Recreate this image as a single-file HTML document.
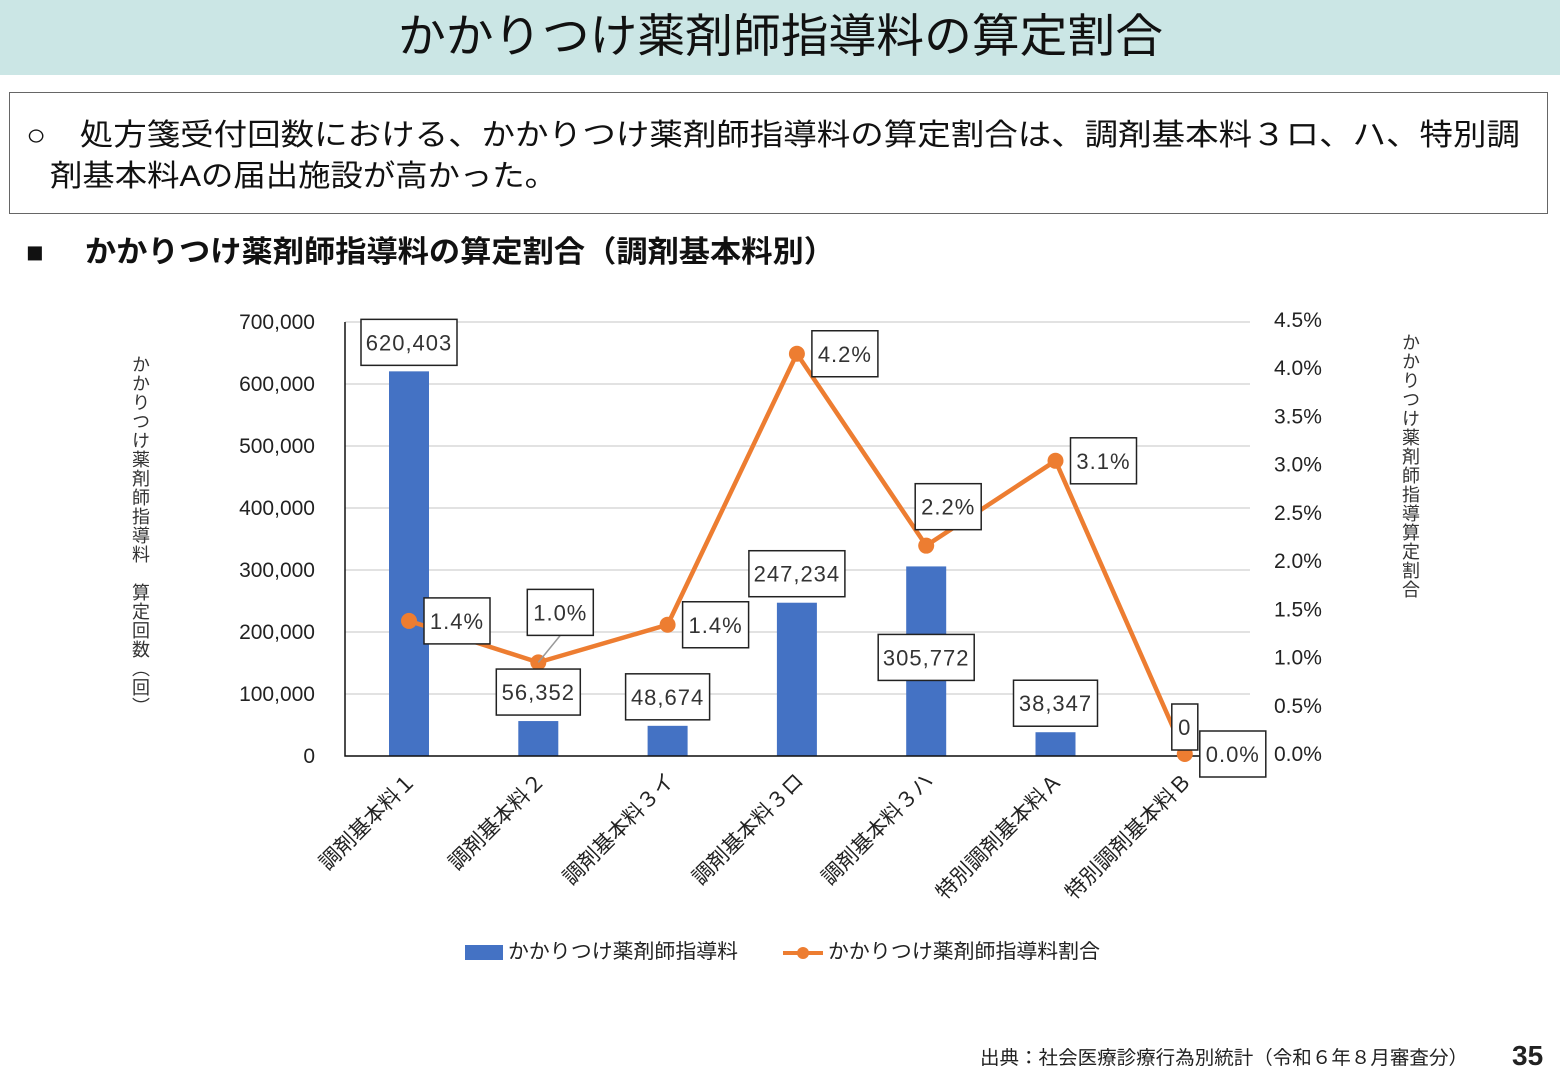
<!DOCTYPE html>
<html><head><meta charset="utf-8"><style>
body{margin:0;width:1560px;height:1080px;overflow:hidden;background:#fff;font-family:"Liberation Sans","Noto Sans CJK JP",sans-serif}
svg text{font-family:"Liberation Sans","Noto Sans CJK JP",sans-serif}
</style></head><body>
<svg id="s" width="1560" height="1080" xmlns="http://www.w3.org/2000/svg">
<rect x="0" y="0" width="1560" height="75" fill="#cbe6e5"/>
<text x="398" y="52" font-size="46" textLength="765" lengthAdjust="spacingAndGlyphs" fill="#111">かかりつけ薬剤師指導料の算定割合</text>
<rect x="9.5" y="92.5" width="1538" height="121" fill="#fff" stroke="#666"/>
<text x="26" y="145" font-size="30" fill="#111" textLength="1494" lengthAdjust="spacingAndGlyphs">○　処方箋受付回数における、かかりつけ薬剤師指導料の算定割合は、調剤基本料３ロ、ハ、特別調</text>
<text x="50" y="186" font-size="30" fill="#111" textLength="507" lengthAdjust="spacingAndGlyphs">剤基本料Aの届出施設が高かった。</text>
<text x="26" y="262" font-size="29" font-weight="bold" fill="#111">■</text>
<text x="85" y="262" font-size="30" font-weight="bold" fill="#111" textLength="750" lengthAdjust="spacingAndGlyphs">かかりつけ薬剤師指導料の算定割合（調剤基本料別）</text>
<g id="chart"></g>
<text x="140" y="355" font-size="18" fill="#333" style="writing-mode:vertical-rl;letter-spacing:1px">かかりつけ薬剤師指導料　算定回数（回）</text>
<text x="1410" y="333" font-size="18" fill="#333" style="writing-mode:vertical-rl;letter-spacing:1px">かかりつけ薬剤師指導算定割合</text>
<rect x="465" y="945" width="38" height="15" fill="#4472c4"/>
<text x="508" y="958" font-size="20" fill="#222" textLength="230" lengthAdjust="spacingAndGlyphs">かかりつけ薬剤師指導料</text>
<line x1="783" y1="953" x2="823" y2="953" stroke="#ed7d31" stroke-width="4"/>
<circle cx="803" cy="953" r="6" fill="#ed7d31"/>
<text x="828" y="958" font-size="20" fill="#222" textLength="272" lengthAdjust="spacingAndGlyphs">かかりつけ薬剤師指導料割合</text>
<text x="980" y="1064" font-size="19" fill="#222" textLength="488" lengthAdjust="spacingAndGlyphs">出典：社会医療診療行為別統計（令和６年８月審査分）</text>
<text x="1512" y="1065" font-size="28" font-weight="bold" fill="#222">35</text>
</svg>
<script>
const categories=["調剤基本料１","調剤基本料２","調剤基本料３イ","調剤基本料３ロ","調剤基本料３ハ","特別調剤基本料Ａ","特別調剤基本料Ｂ"];
const counts=[620403,56352,48674,247234,305772,38347,0];
const countLabels=["620,403","56,352","48,674","247,234","305,772","38,347","0"];
const rates=[1.38,0.95,1.34,4.15,2.16,3.04,0.0];
const rateLabels=["1.4%","1.0%","1.4%","4.2%","2.2%","3.1%","0.0%"];
const leftTicks=[0,100000,200000,300000,400000,500000,600000,700000];
const rightTicks=[0,0.5,1,1.5,2,2.5,3,3.5,4,4.5];
const NS="http://www.w3.org/2000/svg";
const g=document.getElementById('chart');
const X0=345,X1=1250,YB=756,YT=322;
const xc=i=>X0+64+i*129.3;
const yL=v=>YB-(v/700000)*(YB-YT);
const yR=v=>754-(v/4.5)*(754-320);
function mk(t,a,p){const e=document.createElementNS(NS,t);for(const k in a)e.setAttribute(k,a[k]);(p||g).appendChild(e);return e;}
leftTicks.forEach((t,i)=>{
 const gl=mk('line',{x1:X0,x2:X1,y1:yL(t),y2:yL(t),stroke:'#d9d9d9','stroke-width':1.5});
 
 
 const tx=mk('text',{x:315,y:yL(t)+7,'font-size':21,'text-anchor':'end',fill:'#222'});tx.textContent=t.toLocaleString('en-US');
 
 
});
rightTicks.forEach(t=>{
 const tx=mk('text',{x:1274,y:yR(t)+7,'font-size':21,fill:'#222'});tx.textContent=t.toFixed(1)+'%';
 
 
});
counts.forEach((v,i)=>{
 const b=mk('rect',{x:xc(i)-20,y:yL(v),width:40,height:YB-yL(v),fill:'#4472c4'});
 
 
});
const ax=mk('path',{d:`M${X0} ${YT}V${YB}H${X1}`,fill:'none',stroke:'#111','stroke-width':1.5});


categories.forEach((c,i)=>{
 const tx=mk('text',{x:0,y:0,'font-size':21,'text-anchor':'end',fill:'#222',transform:`translate(${xc(i)+8},${YB+26}) rotate(-45)`});tx.textContent=c;
 
 
});
let d='';rates.forEach((r,i)=>{d+=(i?'L':'M')+xc(i)+' '+yR(r);});
const ln=mk('path',{d:d,fill:'none',stroke:'#ed7d31','stroke-width':4.5,'stroke-linejoin':'round'});


rates.forEach((r,i)=>{
 const c=mk('circle',{cx:xc(i),cy:yR(r),r:8,fill:'#ed7d31'});
 
 
});
function box(cx,cy,w,txt,name){
 const r=mk('rect',{x:cx-w/2,y:cy-23,width:w,height:46,fill:'#fff',stroke:'#222','stroke-width':1.5});
 
 
 const t=mk('text',{x:cx,y:cy+8,'font-size':22,'text-anchor':'middle',fill:'#333','letter-spacing':1});t.textContent=txt;
 
 
}
counts.forEach((v,i)=>{
 const w=countLabels[i].length>1?countLabels[i].length*12+12:26;
 let cy=yL(v)-29;
 if(i===4)cy=yL(v)+91;
 box(xc(i),cy,w,countLabels[i],'bar-value-label');
});
rates.forEach((r,i)=>{
 let cx=xc(i)+48,cy=yR(r);
 if(i===1){cx=xc(i)+22;cy=yR(r)-50;
  const l=mk('line',{x1:xc(i),y1:yR(r),x2:cx,y2:cy+23,stroke:'#999','stroke-width':1.5});
  
  }
 if(i===4){cx=xc(i)+22;cy=yR(r)-39;}
 box(cx,cy,66,rateLabels[i],'rate-value-label');
});
</script>
</body></html>
